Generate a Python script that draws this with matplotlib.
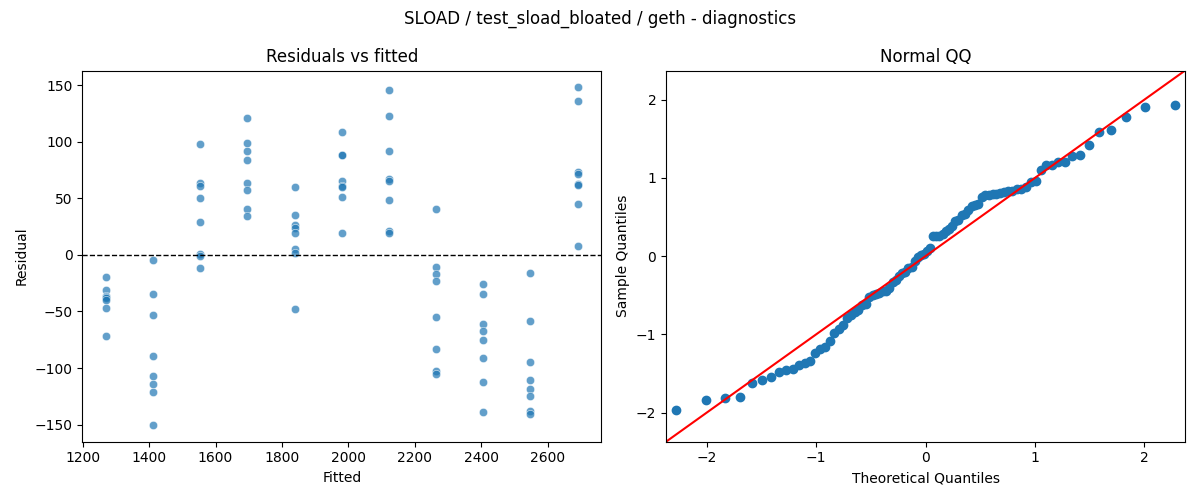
import numpy as np
import matplotlib.pyplot as plt
import seaborn as sns
from statistics import NormalDist

# fitted level of each group and residuals
fitted_levels = [1270, 1412, 1554, 1696, 1838, 1980, 2122, 2264, 2406, 2548, 2690]
resid_groups = [
    [-19.7, -30.9, -35.9, -37.3, -37.9, -39.7, -47.1, -71.3],
    [-4.4, -34.3, -53.2, -89.1, -106.8, -113.8, -120.9, -150.3],
    [97.9, 63.8, 60.9, 50.3, 29.1, 0.5, -0.5, -11.8],
    [121.5, 99.1, 92.3, 84.4, 63.5, 57.4, 40.9, 34.1],
    [59.7, 35.0, 26.5, 24.2, 19.1, 5.0, 2.1, -47.6],
    [109.1, 88.8, 88.8, 65.3, 60.9, 59.7, 50.9, 19.1],
    [146.2, 123.2, 92.3, 67.3, 65.3, 48.5, 21.2, 19.7],
    [40.3, -10.9, -16.8, -23.2, -54.7, -82.9, -102.4, -105.0],
    [-25.6, -34.4, -60.9, -67.4, -75.0, -90.9, -112.0, -138.8],
    [-15.9, -58.2, -94.7, -110.6, -118.2, -124.4, -138.3, -140.5],
    [148.2, 136.5, 73.2, 72.0, 63.0, 61.8, 45.0, 7.6],
]

fitted = []
resid = []
for lvl, grp in zip(fitted_levels, resid_groups):
    for r in grp:
        fitted.append(lvl)
        resid.append(r)
fitted = np.array(fitted)
resid = np.array(resid)

# normal QQ of standardised residuals
n = len(resid)
sample_q = np.sort((resid - resid.mean()) / resid.std(ddof=1))
theo_q = np.array([NormalDist().inv_cdf(i / (n + 1)) for i in range(1, n + 1)])

fig, (ax1, ax2) = plt.subplots(1, 2, figsize=(12, 5), dpi=100)

sns.scatterplot(x=fitted, y=resid, ax=ax1, alpha=0.7)
ax1.axhline(0, color="k", linestyle="--", linewidth=1)
ax1.set_xlabel("Fitted")
ax1.set_ylabel("Residual")
ax1.set_title("Residuals vs fitted")

ax2.plot(theo_q, sample_q, "o", color="C0")
lim = 2.37
ax2.plot([-lim, lim], [-lim, lim], color="red", linewidth=1.5)
ax2.set_xlim(-lim, lim)
ax2.set_ylim(-lim, lim)
ax2.set_xlabel("Theoretical Quantiles")
ax2.set_ylabel("Sample Quantiles")
ax2.set_title("Normal QQ")

fig.suptitle("SLOAD / test_sload_bloated / geth - diagnostics")
fig.tight_layout()
fig.savefig("out.png")
